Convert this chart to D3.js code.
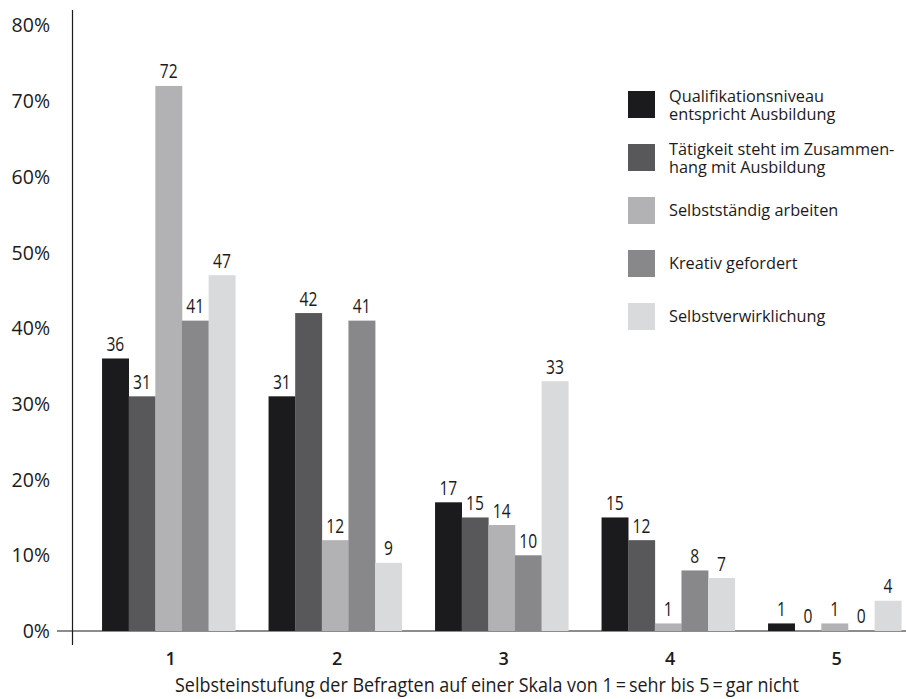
<!DOCTYPE html>
<html><head><meta charset="utf-8">
<script src="https://d3js.org/d3.v7.min.js"></script>
<style>
body{margin:0;background:#fff;}
text{font-family:"Open Sans","Noto Sans",sans-serif;fill:#1b1a1c;}
</style></head><body>
<svg id="chart" width="906" height="699"></svg>
<script>
const categories = ["1","2","3","4","5"];
const seriesNames = [
  ["Qualifikationsniveau","entspricht Ausbildung"],
  ["Tätigkeit steht im Zusammen-","hang mit Ausbildung"],
  ["Selbstständig arbeiten"],
  ["Kreativ gefordert"],
  ["Selbstverwirklichung"]
];
const colors = ["#1b1a1c","#58585a","#b2b2b4","#88888a","#d9dadc"];
const qualifikation = [36,31,17,15,1];
const taetigkeit = [31,42,15,12,0];
const selbststaendig = [72,12,14,1,1];
const kreativ = [41,41,10,8,0];
const selbstverwirklichung = [47,9,33,7,4];
const yTicks = [0,10,20,30,40,50,60,70,80];
const xTitle = "Selbsteinstufung der Befragten auf einer Skala von 1\u2009=\u2009sehr bis 5\u2009=\u2009gar nicht";

const series = [qualifikation,taetigkeit,selbststaendig,kreativ,selbstverwirklichung];
const svg = d3.select("#chart");

const y = d3.scaleLinear().domain([0,80]).range([631,25.4]);
const x0 = d3.scaleBand().domain(categories).range([85.4,917.9]).paddingInner(0.2).paddingOuter(0.1);
const x1 = d3.scaleBand().domain(d3.range(5)).range([0,x0.bandwidth()]);

// axes
svg.append("line").attr("x1",72.5).attr("x2",72.5).attr("y1",10).attr("y2",645).attr("stroke","#1b1a1c").attr("stroke-width",1.2);
svg.append("line").attr("x1",57).attr("x2",906).attr("y1",y(0)).attr("y2",y(0)).attr("stroke","#1b1a1c").attr("stroke-width",1.2);

svg.append("g").selectAll("text").data(yTicks).join("text")
  .attr("x",50).attr("y",d=>y(d)+7).attr("text-anchor","end")
  .style("font-size","19.5px").text(d=>d+"%");

// bars
const groups = svg.append("g").selectAll("g").data(categories).join("g")
  .attr("transform",c=>`translate(${x0(c)},0)`);
groups.each(function(c,ci){
  const g = d3.select(this);
  series.forEach((s,si)=>{
    const v = s[ci];
    g.append("rect").attr("x",x1(si)).attr("width",x1.bandwidth()+0.3)
      .attr("y",y(v)).attr("height",y(0)-y(v)).attr("fill",colors[si]);
    g.append("text")
      .attr("transform",`translate(${x1(si)+x1.bandwidth()/2},${y(v)-(v===0?8:7.5)}) scale(0.8,1)`)
      .attr("text-anchor","middle").style("font-size","19.5px").text(v);
  });
});

// x tick labels
svg.append("g").selectAll("text").data(categories).join("text")
  .attr("x",c=>x0(c)+x0.bandwidth()/2+2).attr("y",664.5).attr("text-anchor","middle")
  .style("font-size","18px").style("font-weight","600").text(c=>c);

svg.append("text").attr("x",487).attr("y",692).attr("text-anchor","middle")
  .attr("textLength",624).attr("lengthAdjust","spacingAndGlyphs")
  .style("font-size","20.5px").text(xTitle);

// legend
const leg = svg.append("g").attr("transform","translate(628,91)");
seriesNames.forEach((n,i)=>{
  const gy = i*53;
  leg.append("rect").attr("x",0).attr("y",gy).attr("width",27).attr("height",27).attr("fill",colors[i]);
  const startY = n.length===2 ? gy+11 : gy+19;
  n.forEach((line,li)=>{
    leg.append("text").attr("x",41).attr("y",startY+li*18).style("font-size","16.3px").text(line);
  });
});
</script></body></html>
